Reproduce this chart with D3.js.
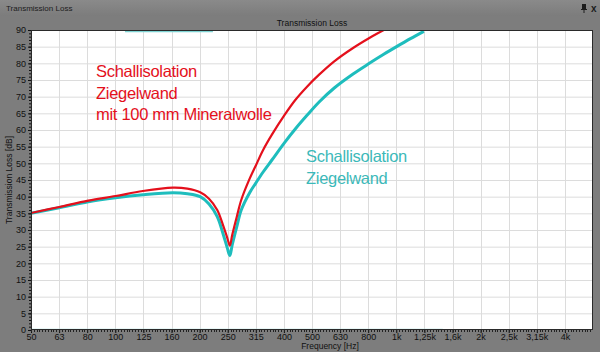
<!DOCTYPE html>
<html>
<head>
<meta charset="utf-8">
<script src="https://cdn.jsdelivr.net/npm/d3@7"></script>
<style>
  html, body { margin: 0; padding: 0; background: #7d7d7d; }
  svg { display: block; font-family: "Liberation Sans", Arial, sans-serif; }
</style>
</head>
<body>
<svg id="chart" width="600" height="352"></svg>
<script>
// band tick labels (1/3 octave), as printed on the axis
var bandLabels = ["50", "63", "80", "100", "125", "160", "200", "250", "315", "400",
    "500", "630", "800", "1k", "1,25k", "1,6k", "2k", "2,5k", "3,15k", "4k"]

// curve sample frequencies [Hz]
var freqs = [50, 63, 80, 100, 125, 160, 180, 200, 215, 230, 240, 250, 255, 260, 270, 280,
    300, 315, 335, 360, 400, 436, 480, 530, 600, 700, 800, 900, 1000, 1120, 1250]

// Ziegelwand mit 100 mm Mineralwolle [dB]
var redTL = [35.1, 36.9, 38.8, 40.2, 41.7, 42.7, 42.4, 41.3, 39.4, 36.0, 32.0, 27.5, 25.3, 28.5, 34.0, 39.0,
    45.4, 49.2, 54.0, 58.6, 64.6, 69.0, 73.0, 76.6, 80.6, 84.6, 87.6, 90.0, 92.2, 94.5, 96.7]

// Ziegelwand [dB]
var tealTL = [35.0, 36.7, 38.5, 39.7, 40.6, 41.2, 40.9, 40.0, 37.8, 34.0, 29.5, 24.5, 22.3, 25.5, 31.0, 36.0,
    41.2, 44.0, 47.4, 51.0, 56.3, 60.3, 64.4, 68.4, 72.6, 76.8, 80.0, 82.7, 85.0, 87.4, 89.6]

// stray traces stuck at the plot limits
var topTrace = { f: [108, 222], v: [90, 90] }
var bottomTrace = { f: [50, 1460], v: [0, 0] }

var dims = {
    width: 600,
    height: 352,
    margin: { top: 30, bottom: 22, left: 31, right: 7 }
}

var svg = d3.select("#chart")

// window chrome
var grad = svg.append("defs").append("linearGradient")
    .attr("id", "bar").attr("x1", 0).attr("y1", 0).attr("x2", 0).attr("y2", 1)
grad.append("stop").attr("offset", "0%").attr("stop-color", "#8a8a8a")
grad.append("stop").attr("offset", "100%").attr("stop-color", "#7c7c7c")

svg.append("rect").attr("width", dims.width).attr("height", dims.height).attr("fill", "#7d7d7d")
svg.append("rect").attr("width", dims.width).attr("height", 16).attr("fill", "url(#bar)")

svg.append("text")
    .attr("x", 6).attr("y", 11)
    .style("font-size", "8px")
    .style("fill", "#1c1c1c")
    .text("Transmission Loss")

// pin + close glyphs
var pin = svg.append("g").attr("transform", "translate(582,4)").style("fill", "#1c1c1c")
pin.append("rect").attr("x", 0).attr("y", 0).attr("width", 4).attr("height", 5)
pin.append("rect").attr("x", -1).attr("y", 5).attr("width", 6).attr("height", 1)
pin.append("rect").attr("x", 1.5).attr("y", 6).attr("width", 1).attr("height", 3)
svg.append("text")
    .attr("x", 591).attr("y", 12)
    .style("font-size", "10px")
    .style("font-weight", "bold")
    .style("fill", "#1c1c1c")
    .text("x")

var x0 = dims.margin.left, x1 = dims.width - dims.margin.right
var y0 = dims.margin.top, y1 = dims.height - dims.margin.bottom

var xScale = d3.scaleLog().domain([50, 5000]).range([x0, x1])
var yScale = d3.scaleLinear().domain([0, 90]).range([y1, y0])

var bandFreqs = bandLabels.map((d, i) => 50 * Math.pow(10, i / 10))

// plot background
svg.append("rect")
    .attr("x", x0).attr("y", y0)
    .attr("width", x1 - x0).attr("height", y1 - y0)
    .attr("fill", "#ffffff")

// grid
svg.append("g")
    .selectAll("line")
    .data(d3.range(5, 90, 5))
    .enter().append("line")
    .attr("x1", x0).attr("x2", x1)
    .attr("y1", d => yScale(d) + 0.5).attr("y2", d => yScale(d) + 0.5)
    .attr("stroke", "#dcdcdc")

svg.append("g")
    .selectAll("line")
    .data(bandFreqs.slice(1))
    .enter().append("line")
    .attr("x1", d => Math.round(xScale(d)) + 0.5).attr("x2", d => Math.round(xScale(d)) + 0.5)
    .attr("y1", y0).attr("y2", y1)
    .attr("stroke", "#dcdcdc")

// curves
svg.append("clipPath").attr("id", "plotclip")
    .append("rect").attr("x", x0).attr("y", y0).attr("width", x1 - x0).attr("height", y1 - y0)

var line = d3.line()
    .x(d => xScale(d[0]))
    .y(d => yScale(d[1]))
    .curve(d3.curveCatmullRom.alpha(0.5))

var plot = svg.append("g").attr("clip-path", "url(#plotclip)")

plot.append("path")
    .attr("d", d3.line().x(d => xScale(d[0])).y(d => yScale(d[1]) - 0.5)(d3.zip(bottomTrace.f, bottomTrace.v)))
    .attr("fill", "none").attr("stroke", "#a8dede").attr("stroke-width", 1.5)

plot.append("path")
    .attr("d", d3.line().x(d => xScale(d[0])).y(d => yScale(d[1]) + 1)(d3.zip(topTrace.f, topTrace.v)))
    .attr("fill", "none").attr("stroke", "#7fd4d4").attr("stroke-width", 2.5)

plot.append("path")
    .attr("d", line(d3.zip(freqs, tealTL)))
    .attr("fill", "none")
    .attr("stroke", "#1ebdbd")
    .attr("stroke-width", 3)
    .attr("stroke-linejoin", "round")

plot.append("path")
    .attr("d", line(d3.zip(freqs, redTL)))
    .attr("fill", "none")
    .attr("stroke", "#e4101c")
    .attr("stroke-width", 2.2)
    .attr("stroke-linejoin", "round")

// plot frame
svg.append("rect")
    .attr("x", x0 + 0.5).attr("y", y0 + 0.5)
    .attr("width", x1 - x0 - 1).attr("height", y1 - y0 - 1)
    .attr("fill", "none").attr("stroke", "#2a2a2a")

// y axis
var yAxis = svg.append("g")
    .attr("transform", `translate(${x0},0)`)
    .call(d3.axisLeft(yScale).tickValues(d3.range(0, 91, 5)).tickSize(3).tickPadding(2))
yAxis.select(".domain").remove()
yAxis.selectAll("text").style("font-size", "9px").style("fill", "#111").style("font-family", "Liberation Sans, Arial")
yAxis.selectAll("line").attr("stroke", "#111")

svg.append("g")
    .selectAll("line")
    .data(d3.range(0, 91, 1))
    .enter().append("line")
    .attr("x1", x0 - 2).attr("x2", x0)
    .attr("y1", d => yScale(d) + 0.5).attr("y2", d => yScale(d) + 0.5)
    .attr("stroke", "#111")

// x axis
var xAxis = svg.append("g")
    .attr("transform", `translate(0,${y1})`)
    .call(d3.axisBottom(xScale)
        .tickValues(bandFreqs)
        .tickFormat((d, i) => bandLabels[i])
        .tickSize(3).tickPadding(1))
xAxis.select(".domain").remove()
xAxis.selectAll("text").style("font-size", "9px").style("fill", "#111").style("font-family", "Liberation Sans, Arial")
xAxis.selectAll("line").attr("stroke", "#111")

svg.append("g")
    .selectAll("line")
    .data(d3.range(0, 200).map(j => 50 * Math.pow(10, j / 100)))
    .enter().append("line")
    .attr("x1", d => Math.round(xScale(d)) + 0.5).attr("x2", d => Math.round(xScale(d)) + 0.5)
    .attr("y1", y1).attr("y2", y1 + 2)
    .attr("stroke", "#222")

// titles
svg.append("text")
    .attr("x", 312).attr("y", 26)
    .style("text-anchor", "middle")
    .style("font-size", "8.5px")
    .style("fill", "#111")
    .text("Transmission Loss")

svg.append("text")
    .attr("x", 330).attr("y", 349)
    .style("text-anchor", "middle")
    .style("font-size", "8.5px")
    .style("fill", "#111")
    .text("Frequency [Hz]")

svg.append("text")
    .attr("transform", "translate(12,180)rotate(-90)")
    .style("text-anchor", "middle")
    .style("font-size", "8.5px")
    .style("fill", "#111")
    .text("Transmission Loss [dB]")

// annotations
var redNote = ["Schallisolation", "Ziegelwand", "mit 100 mm Mineralwolle"]
var tealNote = ["Schallisolation", "Ziegelwand"]

svg.append("g").selectAll("text")
    .data(redNote)
    .enter().append("text")
    .attr("x", 96).attr("y", (d, i) => 77 + i * 21.7)
    .style("font-size", "16.5px")
    .style("letter-spacing", "-0.3px")
    .style("fill", "#e4101c")
    .text(d => d)

svg.append("g").selectAll("text")
    .data(tealNote)
    .enter().append("text")
    .attr("x", 306).attr("y", (d, i) => 162 + i * 21.7)
    .style("font-size", "16.5px")
    .style("letter-spacing", "-0.3px")
    .style("fill", "#3cb9b9")
    .text(d => d)
</script>
</body>
</html>
